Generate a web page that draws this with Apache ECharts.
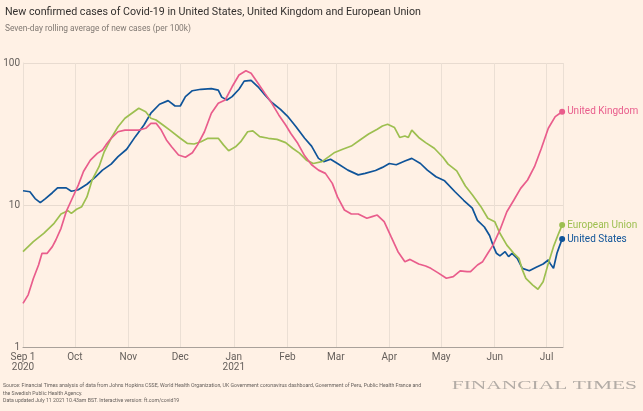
<!DOCTYPE html>
<html>
<head>
<meta charset="utf-8">
<script src="https://cdn.jsdelivr.net/npm/echarts@6/dist/echarts.min.js"></script>
<style>
html,body{margin:0;padding:0;background:#fff1e5;}
#c{width:643px;height:411px;}
</style>
</head>
<body>
<div id="c"></div>
<script>
// Days since 1 Sep 2020, and seven-day rolling averages per 100k
const usDays = [0,4,7,10,13,17,20,25,28,32,37,42,46,51,55,60,65,70,74,79,84,88,91,94,98,103,109,113,115,118,121,125,128,132,136,140,144,149,153,158,163,167,171,174,178,182,188,194,198,204,208,212,216,221,225,230,234,239,244,250,255,260,263,267,270,272,274,276,279,281,283,286,289,293,297,301,304,305,307,309,310,312];
const usVals = [12.6,12.4,11.1,10.4,11.1,12.2,13.2,13.2,12.5,12.8,14.0,15.8,17.6,19.4,21.9,24.7,30.3,36.6,44.3,51.2,54.3,49.8,49.8,58,63.8,65.3,66,64.5,57.5,54.9,58,65.3,74.5,75.5,68,59.5,52.7,47.2,42.3,35.6,29.5,26,21.3,20.2,21,19.6,17.6,16.3,16.7,17.5,18.4,19.6,19.2,20.4,21.3,19.6,17.6,15.8,14.8,12.4,10.8,9.5,7.8,7.0,6.1,5.2,4.57,4.38,4.69,4.33,4.57,4.21,3.58,3.44,3.64,3.84,4.10,3.88,3.58,4.57,4.95,5.76];

const ukDays = [0,3,6,9,11,14,17,19,22,25,28,32,35,39,43,46,48,51,55,59,63,67,71,74,77,80,83,86,90,94,98,101,105,109,113,117,121,125,129,132,136,140,144,148,152,155,159,163,167,171,175,179,182,186,190,194,199,202,205,209,213,217,221,224,229,233,236,240,245,249,253,257,259,263,266,269,272,276,280,284,288,292,296,300,304,308,312];
const ukVals = [2.03,2.33,3.04,3.78,4.57,4.57,5.09,5.67,6.85,8.97,10.8,13.8,17.2,20.7,23.1,24.4,26.5,29.5,32.8,33.7,33.7,33.7,34.7,37.6,37.6,33.7,28.7,25.7,22.5,21.7,23.3,26.5,32.8,44.3,52,54.9,68,82.3,88.2,84.6,72.1,61.1,52,43.1,36.6,31.9,27.2,22.2,19.2,17.6,16.7,14.2,11.4,9.22,8.64,8.64,8.06,8.28,8.50,7.63,5.98,4.69,3.99,4.14,3.84,3.72,3.58,3.34,3.05,3.13,3.44,3.39,3.39,3.78,3.99,4.57,5.22,6.67,8.97,10.8,13.1,15.0,18.6,25.1,34.7,41.9,45.4];

const euDays = [0,6,12,18,22,26,28,31,34,37,40,44,47,51,55,59,63,67,71,74,77,81,85,91,95,99,103,107,113,116,119,123,126,130,133,137,142,147,152,156,160,164,168,173,177,180,185,190,195,200,205,208,211,215,218,221,223,225,229,233,238,243,246,251,256,260,265,269,273,276,280,284,287,289,291,295,298,301,304,307,310,312];
const euVals = [4.69,5.52,6.32,7.43,8.64,9.12,8.74,9.33,9.73,11.4,15.0,18.6,23.7,29.5,35.6,40.8,44.3,48.0,45.4,40.8,39.7,36.6,33.7,29.5,27.2,26.9,27.9,29.5,29.5,26.5,24.1,25.7,27.9,32.8,33.3,30.3,29.5,29.0,27.5,25.1,23.2,20.7,19.6,20.2,21.9,23.3,24.7,26,28.7,31.6,34.2,36.0,37.0,35.1,29.9,30.6,29.9,33.7,29.9,27.5,25.1,21.7,19.4,17.4,13.6,11.8,9.73,8.06,7.63,6.32,5.22,4.57,4.21,3.49,3.04,2.73,2.55,2.88,3.88,5.09,6.32,7.23];

const monthLabels = ['Jan\n2021','Feb','Mar','Apr','May','Jun','Jul','Aug','Sep 1\n2020','Oct','Nov','Dec'];
const yTicks = [1, 10, 100];

const START = Date.UTC(2020, 8, 1);
const DAY = 86400000;
const END = START + 312.5 * DAY;

function toData(days, vals) {
  const d = days.map((x, i) => [START + x * DAY, vals[i]]);
  const last = d.length - 1;
  d[last] = { value: d[last], symbol: 'circle', symbolSize: 6 };
  return d;
}

const FONT = 'Roboto';
function mkSeries(name, days, vals, color) {
  return {
    name, type: 'line', data: toData(days, vals),
    symbol: 'none', showSymbol: true, showAllSymbol: true,
    lineStyle: { color, width: 1.7 },
    itemStyle: { color },
    endLabel: { show: true, formatter: '{a}', color, fontSize: 10, fontFamily: FONT, distance: 5 },
    emphasis: { disabled: true },
    silent: true, animation: false
  };
}

const chart = echarts.init(document.getElementById('c'));
chart.setOption({
  useUTC: true,
  backgroundColor: '#fff1e5',
  animation: false,
  grid: { left: 23, right: 80, top: 63, bottom: 64, containLabel: false },
  xAxis: {
    type: 'time', min: START, max: END,
    minInterval: 28 * DAY, maxInterval: 31 * DAY,
    axisLine: { show: true, lineStyle: { color: '#a9a19a', width: 1 } },
    axisTick: { show: false },
    splitLine: { show: true, lineStyle: { color: '#ebdfd4', width: 1 } },
    axisLabel: {
      color: '#66605c', fontSize: 10, fontFamily: FONT, margin: 5, lineHeight: 10,
      showMaxLabel: false,
      formatter: function (v) { return monthLabels[new Date(v).getUTCMonth()]; }
    }
  },
  yAxis: {
    type: 'log', logBase: 10, min: yTicks[0], max: yTicks[yTicks.length - 1],
    axisLine: { show: true, lineStyle: { color: '#ebdfd4' } },
    axisTick: { show: false },
    splitLine: { show: true, lineStyle: { color: '#e8dbd0', width: 1 } },
    axisLabel: { color: '#66605c', fontSize: 10, fontFamily: FONT, margin: 3 }
  },
  series: [
    mkSeries('United States', usDays, usVals, '#0f5499'),
    mkSeries('European Union', euDays, euVals, '#9dbf50'),
    mkSeries('United Kingdom', ukDays, ukVals, '#e95d8c')
  ],
  graphic: [
    { type: 'text', x: 5, y: 12, style: { text: 'New confirmed cases of Covid-19 in United States, United Kingdom and European Union', font: '10.7px ' + FONT, fill: '#33302e', verticalAlign: 'middle' } },
    { type: 'text', x: 5, y: 29, style: { text: 'Seven-day rolling average of new cases (per 100k)', font: '8.4px ' + FONT, fill: '#807973', verticalAlign: 'middle' } },
    { type: 'text', x: 3, y: 386, style: { text: 'Source: Financial Times analysis of data from Johns Hopkins CSSE, World Health Organization, UK Government coronavirus dashboard, Government of Peru, Public Health France and', font: '5.2px ' + FONT, fill: '#66605c', verticalAlign: 'middle' } },
    { type: 'text', x: 3, y: 393.5, style: { text: 'the Swedish Public Health Agency.', font: '5.2px ' + FONT, fill: '#66605c', verticalAlign: 'middle' } },
    { type: 'text', x: 3, y: 401, style: { text: 'Data updated July 11 2021 10.43am BST. Interactive version: ft.com/covid19', font: '5.2px ' + FONT, fill: '#66605c', verticalAlign: 'middle' } },
    { type: 'text', x: 637, y: 386, scaleX: 1.65, style: { text: 'FINANCIAL TIMES', font: '13px "Liberation Serif"', fill: '#b3aca6', align: 'right', verticalAlign: 'middle' } }
  ]
});
</script>
</body>
</html>
